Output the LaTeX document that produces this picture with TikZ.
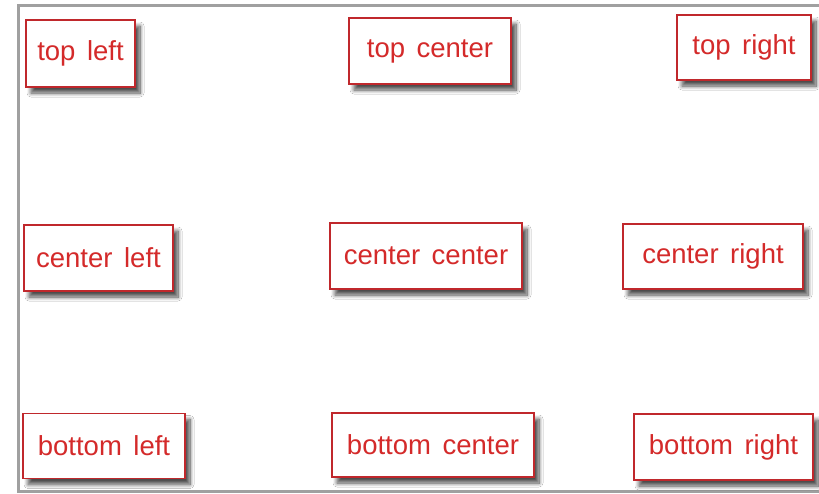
\documentclass[tikz,border=0pt]{standalone}
\usepackage{fontspec}
\setmainfont{Liberation Sans}
\usetikzlibrary{shadows.blur}
\definecolor{boxred}{HTML}{C0282C}
\definecolor{txtred}{HTML}{D42A2A}
\definecolor{framegray}{HTML}{A0A0A0}
\tikzset{
  lbl/.style={draw=boxred, line width=1.4pt, fill=white, text=txtred,
    font=\fontsize{27.5}{32}\selectfont, inner sep=0pt, anchor=center,
    blur shadow={shadow xshift=5pt, shadow yshift=-6pt, shadow blur steps=10, shadow blur radius=4pt, shadow opacity=70}},
}
\newcommand{\wsp}{\hspace{0.42em}}
\begin{document}
\begin{tikzpicture}[x=1pt,y=-1pt]
\useasboundingbox (0,0) rectangle (819,493);
\fill[white] (0,0) rectangle (819,493);
\draw[framegray, line width=3pt] (822,5) -- (18,5) -- (18,491) -- (822,491);
\node[lbl, minimum width=109pt, minimum height=67pt] (tl) at (80.5,53.5) {top\wsp left};
\node[lbl, minimum width=162pt, minimum height=66pt] (tc) at (430,51) {top\wsp center};
\node[lbl, minimum width=134pt, minimum height=65pt] (tr) at (744,47.5) {top\wsp right};
\node[lbl, minimum width=149pt, minimum height=66pt] (cl) at (98.5,258) {center\wsp left};
\node[lbl, minimum width=192pt, minimum height=66pt] (cc) at (426,256) {center\wsp center};
\node[lbl, minimum width=180pt, minimum height=65pt] (cr) at (713,256.5) {center\wsp right};
\node[lbl, minimum width=162pt, minimum height=65pt] (bl) at (104,446) {bottom\wsp left};
\node[lbl, minimum width=202pt, minimum height=64pt] (bc) at (433,445) {bottom\wsp center};
\node[lbl, minimum width=179pt, minimum height=66pt] (br) at (723.5,447) {bottom\wsp right};
\end{tikzpicture}
\end{document}
